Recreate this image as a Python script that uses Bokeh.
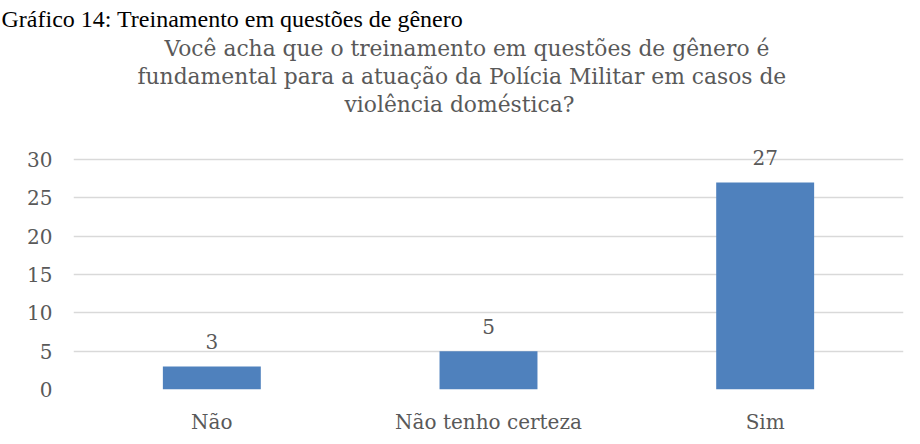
from bokeh.plotting import figure
from bokeh.models import Range1d, FactorRange, ColumnDataSource, FixedTicker, Title
from bokeh.embed import file_html
from bokeh.resources import INLINE
from bokeh.core.properties import value

categories = ["Não", "Não tenho certeza", "Sim"]
counts = [3, 5, 27]
y_ticks = [0, 5, 10, 15, 20, 25, 30]
y_max = 33          # plot area extends a little above the last gridline
title_lines = [
    "Você acha que o treinamento em questões de gênero é",
    "fundamental para a atuação da Polícia Militar em casos de",
    "violência doméstica?",
]
header = "Gráfico 14: Treinamento em questões de gênero"

W, H = 912, 436
TXT = "#595959"
FONT = "DejaVu Serif"
FL, FR, FB = 73, 903, 389                      # frame edges in canvas pixels
PX_PER_UNIT = 230 / 30
FT = round(FB - y_max * PX_PER_UNIT)

p = figure(width=W, height=H,
           x_range=FactorRange(factors=categories, range_padding=0),
           y_range=Range1d(0, y_max),
           output_backend="svg", toolbar_location=None,
           min_border_left=FL, min_border_right=W - FR,
           min_border_top=FT, min_border_bottom=H - FB)
p.outline_line_color = None
p.background_fill_color = "white"
p.border_fill_color = "white"

def style_title(t, standoff, offset, size="21.8px", font=FONT, color=TXT):
    t.align = "left"
    t.offset = offset
    t.text_font = font
    t.text_font_size = size
    t.text_font_style = "normal"
    t.text_color = color
    t.standoff = standoff

# the figure's own title is the outermost one (page header); added titles stack outward from the plot
p.title.text = header
style_title(p.title, 4, -72, size="24px", font="Liberation Serif", color="black")

spacer = Title(text=" ")
style_title(spacer, 2.5, 0, size="12px")
p.add_layout(spacer, "above")
title_offsets = [91, 64, 271]   # left edge of each centred line, relative to the plot area
for line, off in reversed(list(zip(title_lines, title_offsets))):
    t = Title(text=line)
    style_title(t, 1, off)
    p.add_layout(t, "above")

p.xgrid.grid_line_color = None
p.ygrid.grid_line_color = "#D9D9D9"
p.ygrid.grid_line_width = 1.3
p.yaxis.ticker = FixedTicker(ticks=y_ticks)

for ax in (p.xaxis[0], p.yaxis[0]):
    ax.axis_line_color = None
    ax.major_tick_line_color = None
    ax.minor_tick_line_color = None
    ax.major_tick_in = 0
    ax.major_tick_out = 0
    ax.minor_tick_out = 0
    ax.major_label_text_font = FONT
    ax.major_label_text_font_size = "20px"
    ax.major_label_text_color = TXT
p.yaxis.major_label_standoff = 21
p.xaxis.major_label_standoff = 20

src = ColumnDataSource(dict(cat=categories, val=counts, lbl=[str(v) for v in counts]))
p.vbar(x="cat", top="val", width=0.354, source=src, fill_color="#4F81BD", line_color=None)
p.text(x="cat", y="val", text="lbl", source=src, text_align="center",
       text_baseline="alphabetic", y_offset=-25,
       text_font=value(FONT), text_font_size="20px", text_color=TXT)

open("out.html", "w").write(file_html(p, INLINE))
